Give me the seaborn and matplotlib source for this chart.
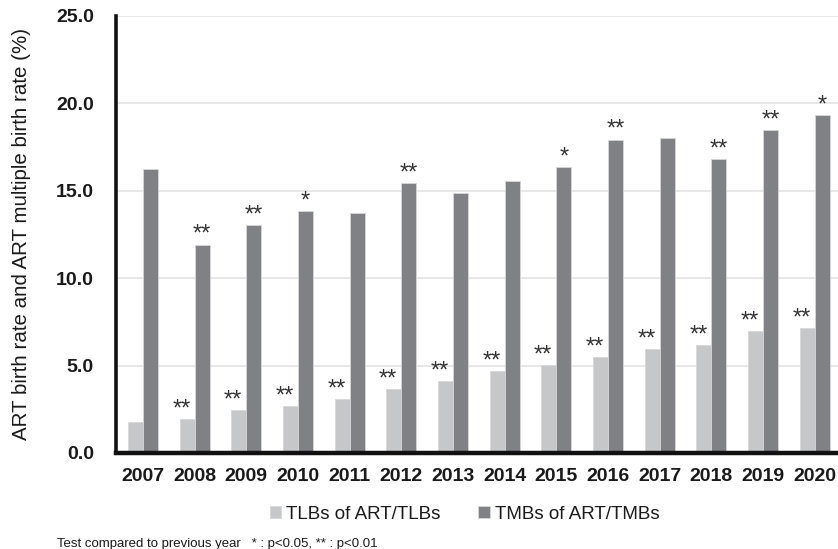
import numpy as np
import pandas as pd
import matplotlib
matplotlib.use("Agg")
import matplotlib.pyplot as plt
import seaborn as sns

years = ["2007", "2008", "2009", "2010", "2011", "2012", "2013",
         "2014", "2015", "2016", "2017", "2018", "2019", "2020"]
tlb_rate = [1.77, 1.96, 2.46, 2.69, 3.07, 3.64, 4.10,
            4.71, 5.03, 5.51, 5.95, 6.18, 6.98, 7.15]
tmb_rate = [16.23, 11.92, 13.02, 13.86, 13.75, 15.43, 14.89,
            15.54, 16.34, 17.93, 18.04, 16.80, 18.46, 19.32]
tlb_sig = ["", "**", "**", "**", "**", "**", "**",
           "**", "**", "**", "**", "**", "**", "**"]
tmb_sig = ["", "**", "**", "*", "", "**", "",
           "", "*", "**", "", "**", "**", "*"]
series_names = ["TLBs of ART/TLBs", "TMBs of ART/TMBs"]
y_ticks = [0, 5, 10, 15, 20, 25]

df = pd.DataFrame({
    "year": years * 2,
    "rate": tlb_rate + tmb_rate,
    "series": [series_names[0]] * len(years) + [series_names[1]] * len(years),
})

sns.set_theme(style="white")
plt.rcParams["font.family"] = ["Liberation Sans", "DejaVu Sans"]

fig = plt.figure(figsize=(8.38, 5.49), dpi=100)
ax = fig.add_axes([0.1384, 0.1749, 0.8616, 0.7960])

palette = {series_names[0]: "#c6c7c9", series_names[1]: "#808185"}
sns.barplot(data=df, x="year", y="rate", hue="series", palette=palette,
            width=0.58, saturation=1, ax=ax, legend=True,
            edgecolor="#d8d8d8", linewidth=0.6)

ax.set_ylim(0, 25)
ax.set_xlim(-0.52, 13.45)
ax.set_yticks(y_ticks)
ax.set_yticklabels([f"{v:.1f}" for v in y_ticks])
ax.yaxis.grid(True, color="#e3e3e3", linewidth=1.2)
ax.set_axisbelow(True)
for side in ["top", "right"]:
    ax.spines[side].set_visible(False)
ax.spines["left"].set_linewidth(2.6)
ax.spines["left"].set_color("#111111")
ax.spines["bottom"].set_linewidth(3.2)
ax.spines["bottom"].set_color("#111111")
ax.tick_params(axis="both", length=0)

tick_font = dict(weight="bold", size=14, color="#1a1a1a")
for lab in ax.get_xticklabels() + ax.get_yticklabels():
    lab.set(**tick_font)
ax.tick_params(axis="x", pad=11)
ax.tick_params(axis="y", pad=16)

ax.set_xlabel("")
ax.set_ylabel("ART birth rate and ART multiple birth rate (%)",
              fontsize=14.8, color="#1a1a1a", labelpad=18)

# Significance marks above each bar
for container, marks, dx in zip(ax.containers, [tlb_sig, tmb_sig], [-4, 0]):
    for bar, mark in zip(container, marks):
        if not mark:
            continue
        ax.annotate(mark, (bar.get_x() + bar.get_width() / 2, bar.get_height()),
                    xytext=(dx, -1), textcoords="offset points",
                    ha="center", va="bottom", fontsize=17, color="#333333")

leg = ax.legend(loc="upper center", bbox_to_anchor=(0.483, -0.082), ncol=2,
                frameon=False, fontsize=13.5, handlelength=0.6, handleheight=0.6,
                handletextpad=0.3, columnspacing=2.0)
for t in leg.get_texts():
    t.set_color("#1a1a1a")

fig.text(0.068, 0.004, "Test compared to previous year   * : p<0.05, ** : p<0.01",
         fontsize=9.5, color="#1a1a1a")

fig.savefig("out.png", dpi=100)
